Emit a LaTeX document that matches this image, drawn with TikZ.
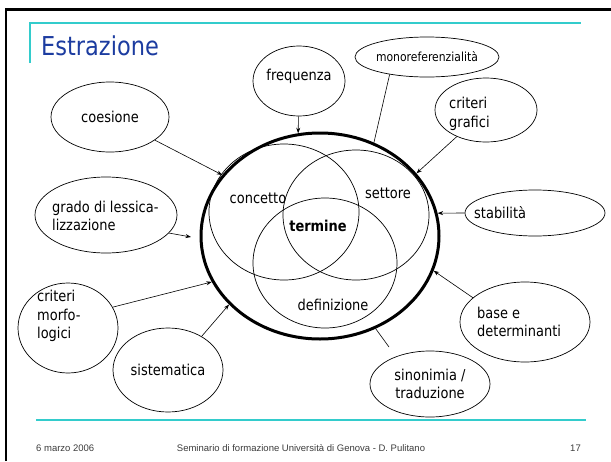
\documentclass[tikz,border=0pt]{standalone}
\usepackage{fontspec}
\setmainfont{DejaVu Sans}[FakeStretch=0.865]
\newfontfamily\footfont{Liberation Sans}
\usetikzlibrary{shapes.geometric,arrows.meta}
\definecolor{teal2}{RGB}{51,204,204}
\definecolor{titleblue}{RGB}{28,60,160}
\definecolor{footgray}{RGB}{60,60,60}
\begin{document}
\begin{tikzpicture}[x=1pt,y=-1pt,
  bub/.style={draw, ellipse, inner sep=0pt, line width=0.7pt, font=\fontsize{15}{18.5}\selectfont, align=center},
  lbl/.style={font=\fontsize{15}{18.5}\selectfont, inner sep=0pt, align=left},
  conn/.style={line width=0.6pt, -{Stealth[length=5.5pt,width=4pt]}},
  plainconn/.style={line width=0.6pt},
  venn/.style={draw, ellipse, inner sep=0pt, line width=0.7pt},
  foot/.style={font=\footfont\fontsize{9.5}{11}\selectfont, text=footgray, inner sep=0pt},
]
\useasboundingbox (0,0) rectangle (611,461);
% slide frame and rules
\draw[line width=2.5pt] (6,461) -- (6,9.5) -- (611,9.5);
\draw[teal2, line width=1.5pt] (30,63) -- (30,23) -- (581,23);
\draw[teal2, line width=1.5pt] (36,420) -- (586,420);
\node[anchor=west, inner sep=0pt, text=titleblue, font=\fontsize{26}{30}\selectfont] (title) at (41,46) {Estrazione};
% footer
\node[foot, anchor=west] (date) at (36,448) {6 marzo 2006};
\node[foot] (sem) at (301,448) {Seminario di formazione Università di Genova - D. Pulitano};
\node[foot, anchor=east] (page) at (581,448) {17};
% venn
\node[venn, minimum width=150pt, minimum height=136pt] (conc) at (284,212) {};
\node[venn, minimum width=146pt, minimum height=130pt] (sett) at (356,215) {};
\node[venn, minimum width=144pt, minimum height=130pt] (defi) at (325,263) {};
\node[draw, ellipse, inner sep=0pt, line width=3pt, minimum width=238pt, minimum height=206pt] (big) at (320,236) {};
\node[lbl] (lconc) at (258,198) {concetto};
\node[lbl] (lsett) at (388,193) {settore};
\node[lbl, font=\bfseries\fontsize{15}{18.5}\selectfont] (lterm) at (318,226) {termine};
\node[lbl] (ldefi) at (333,305) {definizione};
% outer bubbles
\node[bub, minimum width=118pt, minimum height=70pt] (coes) at (110,117) {coesione};
\node[bub, minimum width=92pt, minimum height=70pt] (freq) at (299,81) {};
\node[lbl] (lfreq) at (299,76) {frequenza};
\node[bub, minimum width=124pt, minimum height=40pt, font=\fontsize{12.5}{15}\selectfont] (mono) at (427,57) {monoreferenzialità};
\node[bub, minimum width=102pt, minimum height=64pt] (crit) at (486,110) {};
\node[lbl, anchor=west] (lcrit) at (449,114) {criteri\\grafici};
\node[bub, minimum width=140pt, minimum height=46pt] (stab) at (535,213) {};
\node[lbl, anchor=west] (lstab) at (474,213) {stabilità};
\node[bub, minimum width=130pt, minimum height=80pt] (base) at (525,322) {};
\node[lbl, anchor=west] (lbase) at (477,322) {base e\\determinanti};
\node[bub, minimum width=120pt, minimum height=66pt] (sino) at (430,384) {sinonimia /\\traduzione};
\node[bub, minimum width=110pt, minimum height=84pt] (sist) at (168,370) {sistematica};
\node[bub, minimum width=100pt, minimum height=90pt] (morfo) at (68,328) {};
\node[lbl, anchor=west] (lmorfo) at (37,316) {criteri\\morfo-\\logici};
\node[bub, minimum width=142pt, minimum height=76pt] (grado) at (106,215) {};
\node[lbl, anchor=west] (lgrado) at (52,216) {grado di lessica-\\lizzazione};
% connectors
\coordinate (sinend) at (389,347);
\coordinate (gradoend) at (191,237);
\draw[conn] (coes) -- (big.148);
\draw[conn] (freq) -- (big.102);
\draw[plainconn] (mono.205) -- (big.60);
\draw[conn] (crit) -- (big.33);
\draw[conn] (stab.west) -- (big.11);
\draw[conn] (base.155) -- (big.-17);
\draw[plainconn] (sinend) -- (big.-59);
\draw[conn] (sist.45) -- (big.217);
\draw[conn] (morfo.25) -- (big.203);
\draw[conn] (grado.-16) -- (gradoend);
\end{tikzpicture}
\end{document}
